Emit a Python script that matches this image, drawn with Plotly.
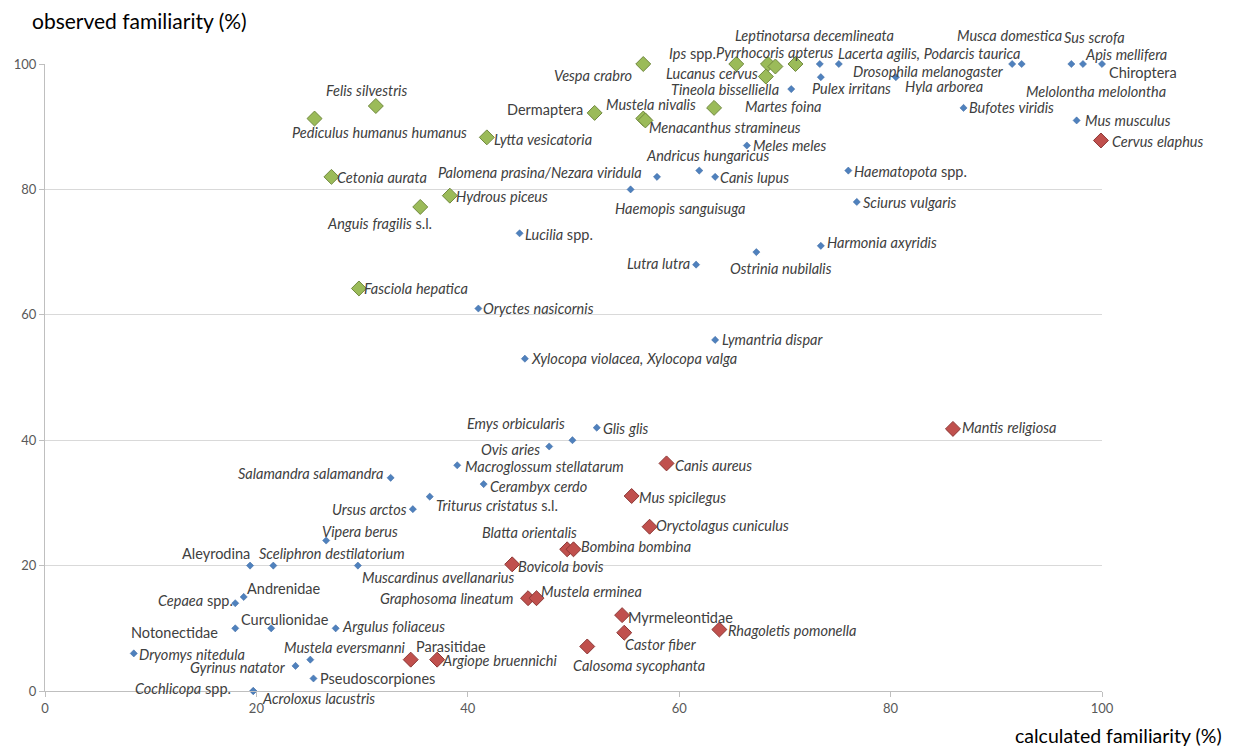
import plotly.graph_objects as go

# ---------------- data ----------------
blue_names = [
    "Lacerta agilis, Podarcis taurica", "Drosophila melanogaster", "Pulex irritans", "Hyla arborea",
    "Musca domestica", "Melolontha melolontha", "Sus scrofa", "Apis mellifera", "Chiroptera",
    "Tineola bisselliella", "Meles meles", "Bufotes viridis", "Mus musculus",
    "Palomena prasina/Nezara viridula", "Andricus hungaricus", "Canis lupus", "Haematopota spp.",
    "Haemopis sanguisuga", "Sciurus vulgaris", "Harmonia axyridis", "Ostrinia nubilalis",
    "Lutra lutra", "Lucilia spp.", "Oryctes nasicornis", "Lymantria dispar",
    "Xylocopa violacea, Xylocopa valga", "Glis glis", "Emys orbicularis", "Ovis aries",
    "Macroglossum stellatarum", "Cerambyx cerdo", "Triturus cristatus s.l.", "Salamandra salamandra",
    "Ursus arctos", "Vipera berus", "Aleyrodina", "Sceliphron destilatorium",
    "Muscardinus avellanarius", "Andrenidae", "Cepaea spp.", "Notonectidae", "Curculionidae",
    "Argulus foliaceus", "Dryomys nitedula", "Mustela eversmanni", "Gyrinus natator",
    "Pseudoscorpiones", "Cochlicopa spp.", "Acroloxus lacustris",
]
blue_x = [73.3, 75.1, 73.4, 80.5, 91.5, 92.4, 97.1, 98.2, 100.0, 70.6, 66.4, 86.9, 97.6,
          57.9, 61.9, 63.4, 76.0, 55.4, 76.8, 73.4, 67.3, 61.6, 44.9, 41.0, 63.4,
          45.4, 52.2, 49.9, 47.7, 39.0, 41.5, 36.4, 32.7, 34.8, 26.6, 19.4, 21.6,
          29.6, 18.8, 18.0, 18.0, 21.4, 27.5, 8.4, 25.1, 23.7, 25.4, 19.7, 19.7]
blue_y = [100, 100, 97.9, 97.9, 100, 100, 100, 100, 100, 96.0, 87.0, 93.0, 91.0,
          82.0, 83.0, 82.0, 83.0, 80.0, 78.0, 71.0, 70.0, 68.0, 73.0, 61.0, 56.0,
          53.0, 42.0, 40.0, 39.0, 36.0, 33.0, 31.0, 34.0, 29.0, 24.0, 20.0, 20.0,
          20.0, 15.0, 14.0, 10.0, 10.0, 10.0, 6.0, 5.0, 4.0, 2.0, 0.0, 0.0]

green_names = [
    "Vespa crabro", "Ips spp.", "", "Pyrrhocoris apterus", "Leptinotarsa decemlineata",
    "Lucanus cervus", "Martes foina", "Mustela nivalis", "Menacanthus stramineus", "Dermaptera",
    "Felis silvestris", "Pediculus humanus humanus", "Lytta vesicatoria", "Cetonia aurata",
    "Hydrous piceus", "Anguis fragilis s.l.", "Fasciola hepatica",
]
green_x = [56.6, 65.4, 68.4, 69.1, 71.0, 68.2, 63.3, 56.6, 56.8, 52.0,
           31.3, 25.5, 41.8, 27.1, 38.3, 35.5, 29.7]
green_y = [100, 100, 100, 99.6, 100, 98.0, 93.0, 91.3, 91.0, 92.2,
           93.3, 91.3, 88.3, 82.0, 79.0, 77.2, 64.2]

red_names = [
    "Cervus elaphus", "Mantis religiosa", "Canis aureus", "Mus spicilegus", "Oryctolagus cuniculus",
    "Blatta orientalis", "Bombina bombina", "Bovicola bovis", "Graphosoma lineatum",
    "Mustela erminea", "Myrmeleontidae", "Castor fiber", "Calosoma sycophanta",
    "Rhagoletis pomonella", "Parasitidae", "Argiope bruennichi",
]
red_x = [99.9, 85.9, 58.8, 55.5, 57.2, 49.4, 50.0, 44.2, 45.7, 46.5, 54.6, 54.8, 51.3, 63.8, 34.6, 37.1]
red_y = [87.8, 41.8, 36.3, 31.1, 26.2, 22.6, 22.6, 20.2, 14.8, 14.8, 12.1, 9.3, 7.1, 9.8, 5.0, 5.0]

x_ticks = [0, 20, 40, 60, 80, 100]
y_ticks = [0, 20, 40, 60, 80, 100]

# label placement: pixel offset (dx right, dy down) of label centre from its marker
label_offsets = {
    "Lacerta agilis, Podarcis taurica": (110, -11), "Drosophila melanogaster": (90, 7),
    "Pulex irritans": (31, 11), "Hyla arborea": (48, 9), "Musca domestica": (-3, -29),
    "Melolontha melolontha": (74, 27), "Sus scrofa": (23, -27), "Apis mellifera": (43, -10),
    "Chiroptera": (41, 8), "Tineola bisselliella": (-66, 0), "Meles meles": (43, 0),
    "Bufotes viridis": (48, 0), "Mus musculus": (51, 0),
    "Palomena prasina/Nezara viridula": (-117, -4), "Andricus hungaricus": (8, -15),
    "Canis lupus": (39, 1), "Haematopota spp.": (62, 1), "Haemopis sanguisuga": (49, 19),
    "Sciurus vulgaris": (53, 1), "Harmonia axyridis": (61, -3), "Ostrinia nubilalis": (25, 16),
    "Lutra lutra": (-38, -1), "Lucilia spp.": (39, 1), "Oryctes nasicornis": (60, 0),
    "Lymantria dispar": (57, 0), "Xylocopa violacea, Xylocopa valga": (109, 0),
    "Glis glis": (29, 1), "Emys orbicularis": (-56, -17), "Ovis aries": (-39, 3),
    "Macroglossum stellatarum": (87, 1), "Cerambyx cerdo": (55, 2),
    "Triturus cristatus s.l.": (67, 9), "Salamandra salamandra": (-80, -4),
    "Ursus arctos": (-43, 0), "Vipera berus": (34, -9), "Aleyrodina": (-34, -12),
    "Sceliphron destilatorium": (59, -12), "Muscardinus avellanarius": (80, 12),
    "Andrenidae": (40, -8), "Cepaea spp.": (-40, -3), "Notonectidae": (-61, 4),
    "Curculionidae": (14, -9), "Argulus foliaceus": (58, -2), "Dryomys nitedula": (58, 1),
    "Mustela eversmanni": (35, -12), "Gyrinus natator": (-58, 2), "Pseudoscorpiones": (64, 0),
    "Cochlicopa spp.": (-70, -3), "Acroloxus lacustris": (65, 7),
    "Vespa crabro": (-50, 11), "Ips spp.": (-44, -11), "Pyrrhocoris apterus": (0, -14),
    "Leptinotarsa decemlineata": (19, -29), "Lucanus cervus": (-54, -3), "Martes foina": (69, -1),
    "Mustela nivalis": (8, -14), "Menacanthus stramineus": (80, 7), "Dermaptera": (-50, -3),
    "Felis silvestris": (-9, -16), "Pediculus humanus humanus": (65, 14),
    "Lytta vesicatoria": (56, 2), "Cetonia aurata": (51, 1), "Hydrous piceus": (52, 1),
    "Anguis fragilis s.l.": (-41, 17), "Fasciola hepatica": (57, 0),
    "Cervus elaphus": (57, 1), "Mantis religiosa": (56, -1), "Canis aureus": (47, 2),
    "Mus spicilegus": (51, 1), "Oryctolagus cuniculus": (73, -1), "Blatta orientalis": (-38, -17),
    "Bombina bombina": (62, -3), "Bovicola bovis": (49, 2), "Graphosoma lineatum": (-82, 0),
    "Mustela erminea": (55, -7), "Myrmeleontidae": (58, 2), "Castor fiber": (37, 12),
    "Calosoma sycophanta": (52, 19), "Rhagoletis pomonella": (73, 1), "Parasitidae": (40, -13),
    "Argiope bruennichi": (62, 1),
}

upright_names = {"Dermaptera", "Chiroptera", "Aleyrodina", "Andrenidae", "Curculionidae",
                 "Notonectidae", "Pseudoscorpiones", "Parasitidae", "Myrmeleontidae"}
upright_words = {"spp.", "s.l."}


def fmt(name):
    if name in upright_names:
        return name
    parts = []
    for w in name.split(" "):
        parts.append(w if w in upright_words else "<i>" + w + "</i>")
    return " ".join(parts)


FONT = "Lato"
LABEL_COLOR = "#404040"

# page body has an 8px margin; figure is sized/offset to compensate
W, H = 1229, 738
ML, MR, MT, MB = 37, 135, 56, 55
PW = W - ML - MR
PH = H - MT - MB

fig = go.Figure()
series = [
    (blue_names, blue_x, blue_y, dict(symbol="diamond", size=5.5, color="#4F81BD",
                                      line=dict(color="#3A66A0", width=0.5))),
    (green_names, green_x, green_y, dict(symbol="diamond", size=11.5, color="#9BBB59",
                                         line=dict(color="#71893F", width=1))),
    (red_names, red_x, red_y, dict(symbol="diamond", size=11.5, color="#C0504D",
                                   line=dict(color="#8C3836", width=1))),
]
annotations = []
for names, xs, ys, mk in series:
    fig.add_trace(go.Scatter(x=xs, y=ys, mode="markers", marker=mk, text=names,
                             hoverinfo="text+x+y", cliponaxis=False, showlegend=False))
    for n, xv, yv in zip(names, xs, ys):
        if not n:
            continue
        dx, dy = label_offsets.get(n, (40, 0))
        annotations.append(dict(x=xv, y=yv, xref="x", yref="y", text=fmt(n), showarrow=False,
                                xanchor="center", yanchor="middle", xshift=dx, yshift=-dy,
                                font=dict(family=FONT, size=14.5, color=LABEL_COLOR)))

annotations.append(dict(x=-15 / PW, y=1 + 44 / PH, xref="paper", yref="paper",
                        xanchor="left", yanchor="middle", showarrow=False,
                        text="observed familiarity (%)",
                        font=dict(family=FONT, size=21, color="#000000")))
annotations.append(dict(x=(1013 - 45) / PW, y=-44 / PH, xref="paper", yref="paper",
                        xanchor="left", yanchor="middle", showarrow=False,
                        text="calculated familiarity (%)",
                        font=dict(family=FONT, size=19.5, color="#000000")))

fig.update_layout(
    width=W, height=H, autosize=False,
    margin=dict(l=ML, r=MR, t=MT, b=MB, pad=0),
    paper_bgcolor="white", plot_bgcolor="white",
    annotations=annotations,
    font=dict(family=FONT),
)
fig.update_xaxes(range=[0, 100], tickvals=x_ticks, showgrid=False, zeroline=False, automargin=False,
                 showline=True, linecolor="#BFBFBF", linewidth=1, ticks="outside", ticklen=5,
                 tickcolor="#BFBFBF", tickfont=dict(family=FONT, size=13, color="#595959"))
fig.update_yaxes(range=[0, 100], tickvals=y_ticks, showgrid=True, gridcolor="#D9D9D9",
                 zeroline=False, showline=True, linecolor="#BFBFBF", linewidth=1, automargin=False,
                 ticks="outside", ticklen=5, tickcolor="#BFBFBF",
                 tickfont=dict(family=FONT, size=13, color="#595959"))

fig.write_html("out.html", post_script="document.body.style.overflow='hidden';")
